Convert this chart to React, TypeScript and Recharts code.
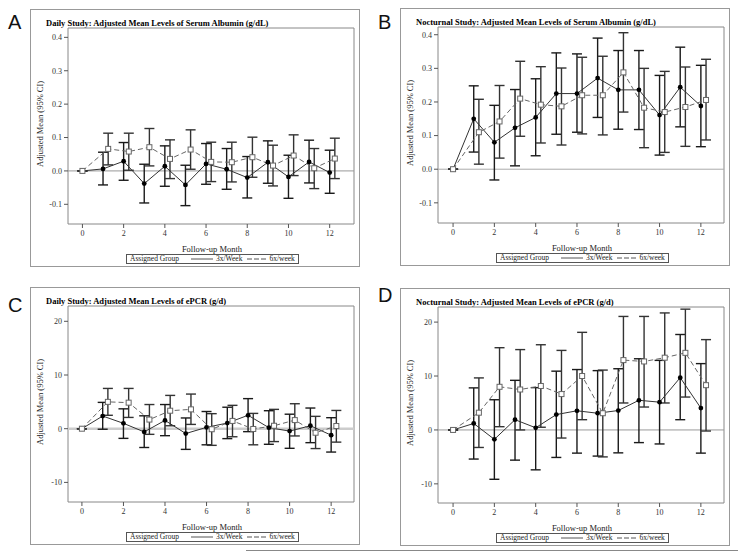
import React from "react";
import {
  ComposedChart,
  Line,
  XAxis,
  YAxis,
  ErrorBar,
  ReferenceLine,
  ReferenceArea,
} from "recharts";

// follow-up months; the 6x/week group is drawn a quarter month to the right
const months3x = [0, 1, 2, 3, 4, 5, 6, 7, 8, 9, 10, 11, 12];
const months6x = [0, 1.25, 2.25, 3.25, 4.25, 5.25, 6.25, 7.25, 8.25, 9.25, 10.25, 11.25, 12.25];
const monthTicks = [0, 2, 4, 6, 8, 10, 12];
const albuminTicks = [-0.1, 0, 0.1, 0.2, 0.3, 0.4];
const epcrTicks = [-10, 0, 10, 20];

// A: daily study, serum albumin
const albDaily3x = [0, 0.006, 0.029, -0.038, 0.014, -0.042, 0.021, 0.005, -0.02, 0.026, -0.018, 0.027, -0.005];
const albDaily3xLow = [0, -0.042, -0.028, -0.096, -0.046, -0.104, -0.04, -0.055, -0.081, -0.037, -0.082, -0.036, -0.067];
const albDaily3xHigh = [0, 0.056, 0.085, 0.02, 0.075, 0.017, 0.082, 0.067, 0.043, 0.09, 0.047, 0.092, 0.062];
const albDaily6x = [0, 0.066, 0.058, 0.071, 0.036, 0.064, 0.027, 0.026, 0.041, 0.016, 0.046, 0.008, 0.037];
const albDaily6xLow = [0, 0.018, 0.002, 0.015, -0.023, 0.005, -0.032, -0.033, -0.019, -0.045, -0.014, -0.053, -0.023];
const albDaily6xHigh = [0, 0.113, 0.113, 0.127, 0.093, 0.123, 0.086, 0.086, 0.101, 0.077, 0.108, 0.067, 0.098];

// B: nocturnal study, serum albumin
const albNoct3x = [0, 0.15, 0.08, 0.123, 0.154, 0.225, 0.225, 0.271, 0.236, 0.236, 0.161, 0.244, 0.188];
const albNoct3xLow = [0, 0.051, -0.032, 0.01, 0.04, 0.104, 0.11, 0.154, 0.119, 0.118, 0.042, 0.126, 0.067];
const albNoct3xHigh = [0, 0.248, 0.19, 0.237, 0.269, 0.346, 0.343, 0.39, 0.353, 0.353, 0.279, 0.363, 0.309];
const albNoct6x = [0, 0.11, 0.142, 0.21, 0.192, 0.187, 0.22, 0.22, 0.288, 0.183, 0.17, 0.185, 0.206];
const albNoct6xLow = [0, 0.015, 0.033, 0.098, 0.078, 0.072, 0.105, 0.102, 0.17, 0.064, 0.05, 0.068, 0.087];
const albNoct6xHigh = [0, 0.208, 0.249, 0.321, 0.305, 0.301, 0.333, 0.336, 0.406, 0.3, 0.291, 0.304, 0.327];

// C: daily study, ePCR
const epcrDaily3x = [0, 2.36, 1.0, -0.6, 1.55, -0.9, 0.25, 1.05, 2.5, 0.2, -0.45, 0.55, -1.2];
const epcrDaily3xLow = [0, -0.1, -1.8, -3.5, -1.3, -3.85, -3.0, -1.85, -0.55, -2.9, -3.65, -2.6, -4.35];
const epcrDaily3xHigh = [0, 4.9, 3.7, 2.4, 4.5, 2.0, 3.2, 4.0, 5.6, 3.35, 2.7, 3.85, 2.05];
const epcrDaily6x = [0, 5.0, 4.85, 1.7, 3.35, 3.6, -0.1, 1.45, -0.05, 0.55, 1.6, -0.75, 0.5];
const epcrDaily6xLow = [0, 2.5, 2.1, -1.05, 0.55, 0.8, -3.1, -1.5, -3.0, -2.4, -1.35, -3.7, -2.5];
const epcrDaily6xHigh = [0, 7.5, 7.5, 4.5, 6.2, 6.45, 2.8, 4.35, 2.85, 3.6, 4.65, 2.3, 3.4];

// D: nocturnal study, ePCR
const epcrNoct3x = [0, 1.2, -1.75, 1.9, 0.4, 2.85, 3.55, 3.1, 3.6, 5.5, 5.15, 9.7, 4.05];
const epcrNoct3xLow = [0, -5.4, -9.15, -5.6, -7.4, -5.1, -4.3, -4.85, -4.25, -2.35, -2.6, 1.9, -4.3];
const epcrNoct3xHigh = [0, 7.8, 5.6, 9.2, 7.85, 10.9, 11.2, 11.0, 11.35, 13.2, 12.9, 17.7, 12.3];
const epcrNoct6x = [0, 3.2, 8.0, 7.5, 8.15, 6.65, 10.0, 3.1, 12.95, 12.7, 13.4, 14.3, 8.3];
const epcrNoct6xLow = [0, -3.25, 0.6, 0, 0.5, -1.5, 1.9, -5.0, 5.0, 4.25, 5.0, 6.1, -0.2];
const epcrNoct6xHigh = [0, 9.65, 15.25, 14.9, 15.8, 14.75, 18.1, 11.1, 21.05, 21.05, 21.7, 22.4, 16.75];

const SERIF = "'Liberation Serif', 'DejaVu Serif', serif";

type Pt = { x: number; y: number; err: [number, number] };

function toSeries(xs: number[], mean: number[], low: number[], high: number[]): Pt[] {
  return xs.map((x, i) => ({ x, y: mean[i], err: [mean[i] - low[i], high[i] - mean[i]] }));
}

const FRAME_W = 330;
const FRAME_H = 258;
const PLOT_L = 38;
const PLOT_T = 19;
const PLOT_W = 286;
const PLOT_H = 196;

const circleDot = (p: any) => (
  <circle key={`c-${p.index}`} cx={p.cx} cy={p.cy} r={2.4} fill="#000" />
);
const squareDot = (p: any) => (
  <rect key={`s-${p.index}`} x={p.cx - 2.5} y={p.cy - 2.5} width={5} height={5} fill="#fff" stroke="#666" strokeWidth={1} />
);

function Panel(props: {
  left: number;
  top: number;
  letter: string;
  letterTop: number;
  title: string;
  xDomain: [number, number];
  yDomain: [number, number];
  yTicks: number[];
  fmt: (v: number) => string;
  s3: Pt[];
  s6: Pt[];
  zeroStroke: string;
  zeroWidth: number;
}) {
  const { left, top, xDomain, yDomain } = props;
  const tick = { fontSize: 8, fill: "#333", stroke: "none", fontFamily: SERIF };
  return (
    <>
      <div
        style={{
          position: "absolute",
          left: left - 22,
          top: props.letterTop,
          fontFamily: "'Liberation Sans', Arial, sans-serif",
          fontSize: 20,
          lineHeight: "20px",
          color: "#111",
        }}
      >
        {props.letter}
      </div>
      <div
        style={{
          position: "absolute",
          left,
          top,
          width: FRAME_W,
          height: FRAME_H,
          border: "1px solid #999",
          boxSizing: "border-box",
          fontFamily: SERIF,
        }}
      >
        <div
          style={{
            position: "absolute",
            left: 15,
            top: 8,
            fontWeight: "bold",
            fontSize: 8.5,
            whiteSpace: "nowrap",
            color: "#000",
          }}
        >
          {props.title}
        </div>
        <ComposedChart
          width={FRAME_W - 2}
          height={FRAME_H - 2}
          style={{ fontFamily: SERIF }}
          margin={{ top: PLOT_T - 1, right: FRAME_W - 1 - PLOT_L - PLOT_W, left: 7, bottom: 0 }}
        >
          <XAxis
            dataKey="x"
            type="number"
            domain={xDomain}
            ticks={monthTicks}
            allowDataOverflow
            axisLine={false}
            tickLine={{ stroke: "#555" }}
            tickSize={4}
            tick={tick}
            height={FRAME_H - 1 - PLOT_T - PLOT_H}
          />
          <YAxis
            type="number"
            domain={yDomain}
            ticks={props.yTicks}
            allowDataOverflow
            axisLine={false}
            tickLine={{ stroke: "#555" }}
            tickSize={4}
            tick={tick}
            tickFormatter={props.fmt}
            width={30}
          />
          <ReferenceLine y={0} stroke={props.zeroStroke} strokeWidth={props.zeroWidth} />
          <Line
            data={props.s3}
            dataKey="y"
            stroke="#333"
            strokeWidth={1}
            dot={circleDot}
            activeDot={false}
            isAnimationActive={false}
          >
            <ErrorBar dataKey="err" width={5} stroke="#1a1a1a" strokeWidth={1.4} direction="y" />
          </Line>
          <Line
            data={props.s6}
            dataKey="y"
            stroke="#666"
            strokeWidth={1}
            strokeDasharray="5 3"
            dot={squareDot}
            activeDot={false}
            isAnimationActive={false}
          >
            <ErrorBar dataKey="err" width={5} stroke="#333" strokeWidth={1.4} direction="y" />
          </Line>
          <ReferenceArea
            x1={xDomain[0]}
            x2={xDomain[1]}
            y1={yDomain[0]}
            y2={yDomain[1]}
            fill="none"
            stroke="#888"
            strokeWidth={1}
          />
        </ComposedChart>
        <div
          style={{
            position: "absolute",
            left: 9 - 40,
            top: PLOT_T + PLOT_H / 2 - 6,
            width: 80,
            textAlign: "center",
            transform: "rotate(-90deg)",
            fontSize: 8.5,
            lineHeight: "12px",
            whiteSpace: "nowrap",
            color: "#222",
          }}
        >
          Adjusted Mean (95% CI)
        </div>
        <div
          style={{
            position: "absolute",
            left: PLOT_L,
            width: PLOT_W,
            top: PLOT_T + PLOT_H + 18,
            textAlign: "center",
            fontSize: 8.5,
            lineHeight: "12px",
            color: "#222",
          }}
        >
          Follow-up Month
        </div>
        <div
          style={{
            position: "absolute",
            left: 95,
            top: PLOT_T + PLOT_H + 29,
            width: 173,
            height: 10,
            border: "1px solid #555",
            boxSizing: "border-box",
            fontSize: 7.5,
            lineHeight: "8px",
            color: "#222",
            display: "flex",
            alignItems: "center",
            whiteSpace: "nowrap",
          }}
        >
          <span style={{ marginLeft: 3, flex: "0 0 auto" }}>Assigned Group</span>
          <svg width={22} height={6} style={{ marginLeft: 12, marginRight: 3, flex: "0 0 auto" }}>
            <line x1={0} y1={3} x2={22} y2={3} stroke="#555" strokeWidth={1} />
          </svg>
          <span style={{ flex: "0 0 auto" }}>3x/Week</span>
          <svg width={19} height={6} style={{ marginLeft: 5, marginRight: 3, flex: "0 0 auto" }}>
            <line x1={0} y1={3} x2={19} y2={3} stroke="#555" strokeWidth={1} strokeDasharray="5 2" />
          </svg>
          <span style={{ flex: "0 0 auto" }}>6x/week</span>
        </div>
      </div>
    </>
  );
}

const fmtAlb = (v: number) => v.toFixed(1);
const fmtEpcr = (v: number) => String(v);

export default function App() {
  return (
    <div
      style={{
        position: "absolute",
        left: 0,
        top: 0,
        width: 738,
        height: 554,
        background: "#fff",
        overflow: "hidden",
      }}
    >
      <Panel
        left={30}
        top={9}
        letter="A"
        letterTop={12}
        title="Daily Study: Adjusted Mean Levels of Serum Albumin (g/dL)"
        xDomain={[-0.7, 13.18]}
        yDomain={[-0.159, 0.428]}
        yTicks={albuminTicks}
        fmt={fmtAlb}
        s3={toSeries(months3x, albDaily3x, albDaily3xLow, albDaily3xHigh)}
        s6={toSeries(months6x, albDaily6x, albDaily6xLow, albDaily6xHigh)}
        zeroStroke="#999"
        zeroWidth={1}
      />
      <Panel
        left={400}
        top={8}
        letter="B"
        letterTop={12}
        title="Nocturnal Study: Adjusted Mean Levels of Serum Albumin (g/dL)"
        xDomain={[-0.73, 13.12]}
        yDomain={[-0.16, 0.423]}
        yTicks={albuminTicks}
        fmt={fmtAlb}
        s3={toSeries(months3x, albNoct3x, albNoct3xLow, albNoct3xHigh)}
        s6={toSeries(months6x, albNoct6x, albNoct6xLow, albNoct6xHigh)}
        zeroStroke="#aaa"
        zeroWidth={1}
      />
      <Panel
        left={30}
        top={287}
        letter="C"
        letterTop={295}
        title="Daily Study: Adjusted Mean Levels of ePCR (g/d)"
        xDomain={[-0.67, 13.1]}
        yDomain={[-13.65, 22.85]}
        yTicks={epcrTicks}
        fmt={fmtEpcr}
        s3={toSeries(months3x, epcrDaily3x, epcrDaily3xLow, epcrDaily3xHigh)}
        s6={toSeries(months6x, epcrDaily6x, epcrDaily6xLow, epcrDaily6xHigh)}
        zeroStroke="#ccc"
        zeroWidth={2.5}
      />
      <Panel
        left={400}
        top={288}
        letter="D"
        letterTop={285}
        title="Nocturnal Study: Adjusted Mean Levels of ePCR (g/d)"
        xDomain={[-0.73, 13.12]}
        yDomain={[-13.55, 22.8]}
        yTicks={epcrTicks}
        fmt={fmtEpcr}
        s3={toSeries(months3x, epcrNoct3x, epcrNoct3xLow, epcrNoct3xHigh)}
        s6={toSeries(months6x, epcrNoct6x, epcrNoct6xLow, epcrNoct6xHigh)}
        zeroStroke="#999"
        zeroWidth={1}
      />
      <div
        style={{
          position: "absolute",
          left: 246,
          top: 550,
          width: 492,
          height: 1,
          background: "#888",
        }}
      />
    </div>
  );
}
